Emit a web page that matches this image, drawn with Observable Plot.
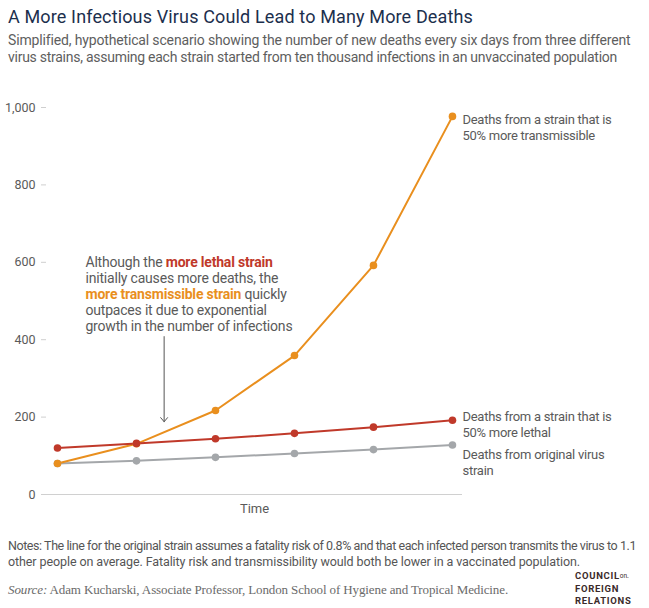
<!DOCTYPE html>
<html>
<head>
<meta charset="utf-8">
<script src="https://cdn.jsdelivr.net/npm/d3@7"></script>
<script src="https://cdn.jsdelivr.net/npm/@observablehq/plot@0.6"></script>
<style>
  html, body { margin: 0; padding: 0; background: #fff; }
  #root { position: relative; width: 649px; height: 608px; background: #fff; overflow: hidden; font-family: Roboto, "Noto Sans", sans-serif; }
  .abs { position: absolute; white-space: nowrap; }
  .fit { display: inline-block; white-space: nowrap; }
  #chart svg { overflow: visible; }
  #chart g[aria-label="y-axis tick"] path, #chart g[aria-label="y-axis tick"] line { stroke: #cfcfcf; }
</style>
</head>
<body>
<div id="root">
  <div id="title" class="abs" style="left:8px;top:6px;font-size:18px;line-height:22px;color:#1c2f4d;"></div>
  <div id="subtitle" class="abs" style="left:8px;top:32px;font-size:14px;line-height:17px;color:#5e5e5e;"></div>
  <div id="chart" class="abs" style="left:0;top:70px;"></div>
  <div id="notes" class="abs" style="left:8px;top:538px;font-size:12.5px;line-height:16px;color:#555;"></div>
  <div id="source" class="abs" style="left:8px;top:582px;font-family:'Liberation Serif', serif;font-size:13px;line-height:16px;color:#6a6a6a;"></div>
  <div id="logo" class="abs" style="left:575px;top:570px;font-size:9.5px;line-height:12px;font-weight:700;letter-spacing:0.7px;color:#3b2a2a;">
    <div>COUNCIL<span style="font-size:6.5px;font-weight:400;letter-spacing:0;vertical-align:1px;">on</span><span style="font-size:6px;">·</span></div>
    <div>FOREIGN</div>
    <div>RELATIONS</div>
  </div>
</div>
<script>
// ---------- data ----------
const titleText = "A More Infectious Virus Could Lead to Many More Deaths";
const subtitleLines = [
  "Simplified, hypothetical scenario showing the number of new deaths every six days from three different",
  "virus strains, assuming each strain started from ten thousand infections in an unvaccinated population"
];
const noteLines = [
  "Notes: The line for the original strain assumes a fatality risk of 0.8% and that each infected person transmits the virus to 1.1",
  "other people on average. Fatality risk and transmissibility would both be lower in a vaccinated population."
];
const sourceLabel = "Source:";
const sourceText = " Adam Kucharski, Associate Professor, London School of Hygiene and Tropical Medicine.";

const steps = [0, 1, 2, 3, 4, 5];
const originalDeaths = [80, 87, 96, 106, 116, 128];
const transmissibleDeaths = [80, 131, 217, 359, 592, 977];
const lethalDeaths = [120, 132, 144, 158, 174, 192];

const seriesKeys = ["original", "transmissible", "lethal"];
const seriesLabels = [
  "Deaths from original virus\nstrain",
  "Deaths from a strain that is\n50% more transmissible",
  "Deaths from a strain that is\n50% more lethal"
];
const yTicks = [0, 200, 400, 600, 800, 1000];
const xLabel = "Time";
const annotationLines = [
  [["Although the ", null], ["more lethal strain", "lethal"]],
  [["initially causes more deaths, the", null]],
  [["more transmissible strain", "transmissible"], [" quickly", null]],
  [["outpaces it due to exponential", null]],
  [["growth in the number of infections", null]]
];

// ---------- build ----------
const seriesValues = [originalDeaths, transmissibleDeaths, lethalDeaths];
const rows = [];
seriesKeys.forEach((k, i) => steps.forEach((s, j) => rows.push({series: k, step: s, value: seriesValues[i][j]})));
const lastRows = seriesKeys.map((k, i) => ({series: k, step: steps[steps.length - 1], value: seriesValues[i][steps.length - 1], label: seriesLabels[i]}));
const annotationText = annotationLines.map(l => l.map(s => s[0]).join("")).join("\n");

const colorDomain = ["original", "transmissible", "lethal"];
const colorRange = ["#a4a7aa", "#e98f1e", "#c0392a"];
const colorOf = k => colorRange[colorDomain.indexOf(k)];

function labelMark(key, dy) {
  return Plot.text(lastRows.filter(d => d.series === key), {
    x: "step", y: "value", text: "label", dx: 10, dy,
    textAnchor: "start", lineAnchor: "top", lineHeight: 16 / 13,
    fontSize: 13, fill: "#5a5a5a"
  });
}

const plot = Plot.plot({
  width: 649,
  height: 450,
  marginTop: 37,
  marginBottom: 26,
  marginLeft: 46,
  marginRight: 187,
  x: {domain: [-0.139, 5.127], axis: null},
  y: {domain: [0, 1000], ticks: yTicks, tickFormat: d3.format(","), tickSize: 5, tickPadding: 6, label: null},
  color: {domain: colorDomain, range: colorRange},
  style: {fontFamily: "Roboto, 'Noto Sans', sans-serif", fontSize: "12.5px", color: "#5a5a5a", background: "transparent", overflow: "visible"},
  marks: [
    Plot.ruleY([0], {stroke: "#d0d0d0", strokeWidth: 1}),
    Plot.line(rows, {x: "step", y: "value", z: "series", stroke: "series", strokeWidth: 2}),
    Plot.dot(rows, {x: "step", y: "value", fill: "series", r: 3.8}),
    labelMark("transmissible", -4),
    labelMark("lethal", -10.5),
    labelMark("original", 2.5),
    Plot.text([annotationText], {
      x: 0.354, y: 618, text: d => d, textAnchor: "start", lineAnchor: "top",
      lineHeight: 16 / 14, fontSize: 14, fill: "#5a5a5a"
    }),
    Plot.arrow([0], {x1: 1.35, x2: 1.35, y1: 408, y2: 188, stroke: "#555", strokeWidth: 1, headLength: 8, headAngle: 80}),
    Plot.text([xLabel], {frameAnchor: "bottom", dy: 18, fontSize: 13, fill: "#5a5a5a"})
  ]
});
document.getElementById("chart").appendChild(plot);

// ---------- texts ----------
function addLine(parent, text) {
  const s = document.createElement("span");
  s.className = "fit";
  s.textContent = text;
  parent.appendChild(s);
  return s;
}
function fitHtml(el, target) {
  el.style.letterSpacing = "0px";
  const w = el.getBoundingClientRect().width;
  const n = el.textContent.length;
  el.style.letterSpacing = ((target - w) / n) + "px";
}
const t = addLine(document.getElementById("title"), titleText);
fitHtml(t, 465);
const sub = document.getElementById("subtitle");
const s1 = addLine(sub, subtitleLines[0]); sub.appendChild(document.createElement("br"));
const s2 = addLine(sub, subtitleLines[1]);
fitHtml(s1, 622); fitHtml(s2, 609);
const notes = document.getElementById("notes");
const n1 = addLine(notes, noteLines[0]); notes.appendChild(document.createElement("br"));
const n2 = addLine(notes, noteLines[1]);
fitHtml(n1, 628); fitHtml(n2, 572);
const src = document.getElementById("source");
const sp = document.createElement("span"); sp.className = "fit";
const it = document.createElement("i"); it.textContent = sourceLabel; sp.appendChild(it);
sp.appendChild(document.createTextNode(sourceText));
src.appendChild(sp);
fitHtml(sp, 500);

// ---------- SVG text fitting ----------
function fitSvg(text, lineEl, target) {
  text.style.letterSpacing = "0px";
  const w = lineEl.getComputedTextLength();
  const n = lineEl.textContent.length;
  text.style.letterSpacing = ((target - w) / n) + "px";
}
const allTexts = Array.from(plot.querySelectorAll("text"));
allTexts.forEach(text => {
  const tspans = Array.from(text.querySelectorAll("tspan"));
  const content = text.textContent;
  if (content.startsWith("Deaths from a strain") && tspans.length) {
    fitSvg(text, tspans[0], 149);
  } else if (content.startsWith("Deaths from original") && tspans.length) {
    fitSvg(text, tspans[0], 142);
  } else if (content.startsWith("Although") && tspans.length) {
    const last = tspans[tspans.length - 1];
    fitSvg(text, last, 207);
    tspans.forEach((ts, i) => {
      const segs = annotationLines[i];
      if (!segs || (segs.length === 1 && !segs[0][1])) return;
      ts.textContent = "";
      segs.forEach(([str, key]) => {
        const child = document.createElementNS("http://www.w3.org/2000/svg", "tspan");
        child.textContent = str;
        if (key) { child.setAttribute("fill", colorOf(key)); child.setAttribute("font-weight", "700"); }
        ts.appendChild(child);
      });
    });
  }
});
</script>
</body>
</html>
